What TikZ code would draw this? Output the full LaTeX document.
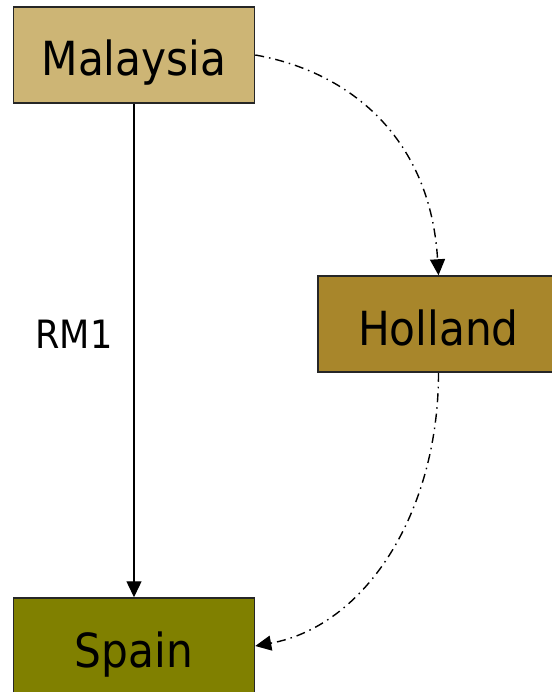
\documentclass[tikz,border=0pt]{standalone}
\usepackage{fontspec}
\setmainfont{DejaVu Sans Condensed}
\usetikzlibrary{arrows.meta}

\definecolor{tanbox}{RGB}{205,181,117}
\definecolor{ochrebox}{RGB}{168,134,43}
\definecolor{olivebox}{RGB}{128,128,0}

\tikzset{
  country/.style={draw=black!85, line width=1.5pt, minimum width=241pt,
    minimum height=96pt, inner sep=0pt, font=\fontsize{47}{50}\selectfont,
    text height=42pt, text depth=0pt},
  route/.style={line width=1.4pt, -{Triangle[length=16pt,width=15pt]}},
  altroute/.style={route, dash pattern=on 9pt off 5pt on 1.5pt off 5pt},
  routelabel/.style={font=\fontsize{39}{42}\selectfont, inner sep=0pt}
}

\begin{document}
\begin{tikzpicture}[x=1pt, y=-1pt]
  \useasboundingbox (0,0) rectangle (551,692);

  \node[country, fill=tanbox]   (malaysia) at (134,55)    {Malaysia};
  \node[country, fill=ochrebox] (holland)  at (438.5,324) {Holland};
  \node[country, fill=olivebox] (spain)    at (134,646)   {Spain};

  % direct route
  \draw[route] (malaysia) -- (spain);
  \node[routelabel] (rm1) at (74,334) {RM1};

  % route through Holland
  \draw[altroute] (malaysia.east) .. controls +(96,17) and +(-8,-136) .. (holland.north);
  \draw[altroute] (holland.south) .. controls +(0,140) and +(110,-20) .. (spain.east);
\end{tikzpicture}
\end{document}
